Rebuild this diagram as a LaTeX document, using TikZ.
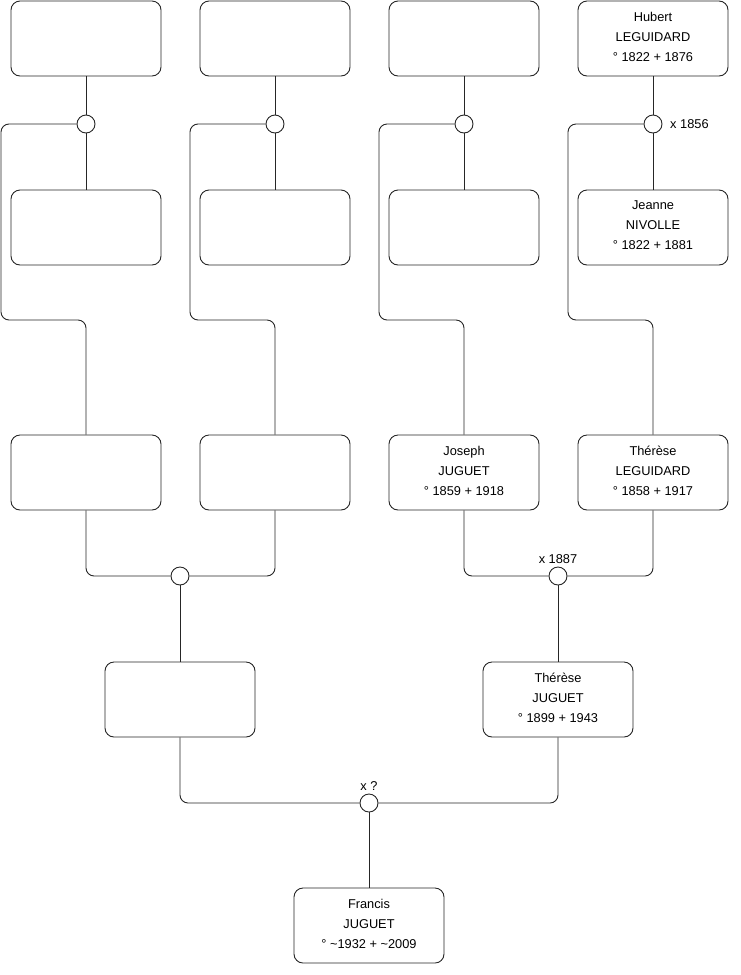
\documentclass[tikz,border=0pt]{standalone}
\usepackage{fontspec}
\setmainfont{Liberation Sans}
\begin{document}
\begin{tikzpicture}[x=1pt,y=-1pt,
  person/.style={draw=black!85,line width=0.9pt,rounded corners=9pt,minimum width=150pt,minimum height=75pt,inner sep=0pt,align=center,font=\fontsize{12.8}{20}\selectfont,execute at end node={\rule[-4pt]{0pt}{4pt}}},
  union/.style={draw=black!85,line width=0.9pt,circle,minimum size=18pt,inner sep=0pt},
  link/.style={draw=black!85,line width=0.9pt,rounded corners=8pt},
  lbl/.style={font=\fontsize{12.8}{14}\selectfont,inner sep=0pt}]
\useasboundingbox (0,0) rectangle (740,975);
% row 1
\node[person] (a1) at (86,38.5) {};
\node[person] (b1) at (275,38.5) {};
\node[person] (c1) at (464,38.5) {};
\node[person] (d1) at (653,38.5) {Hubert\\LEGUIDARD\\° 1822 + 1876};
% unions row 1
\node[union] (ua) at (86,124) {};
\node[union] (ub) at (275,124) {};
\node[union] (uc) at (464,124) {};
\node[union] (ud) at (653,124) {};
% row 2
\node[person] (a2) at (86,227.5) {};
\node[person] (b2) at (275,227.5) {};
\node[person] (c2) at (464,227.5) {};
\node[person] (d2) at (653,227.5) {Jeanne\\NIVOLLE\\° 1822 + 1881};
% row 3
\node[person] (a3) at (86,472.5) {};
\node[person] (b3) at (275,472.5) {};
\node[person] (c3) at (464,472.5) {Joseph\\JUGUET\\° 1859 + 1918};
\node[person] (d3) at (653,472.5) {Thérèse\\LEGUIDARD\\° 1858 + 1917};
% unions row 3
\node[union] (uab) at (180,576) {};
\node[union] (ucd) at (558,576) {};
% row 4
\node[person] (e4) at (180,699.5) {};
\node[person] (f4) at (558,699.5) {Thérèse\\JUGUET\\° 1899 + 1943};
% union row 4
\node[union] (uef) at (369,803) {};
% row 5
\node[person] (g5) at (369,925.5) {Francis\\JUGUET\\° \textasciitilde1932 + \textasciitilde2009};
% labels
\node[lbl,anchor=west] (ld) at (670,124) {x 1856};
\node[lbl,anchor=south] (lcd) at (558,564) {x 1887};
\node[lbl,anchor=south] (lef) at (369,791) {x ?};
% connectors row1-row2
\foreach \u/\t/\m in {ua/a1/a2,ub/b1/b2,uc/c1/c2,ud/d1/d2}{
  \draw[link] (\t.south) -- (\u.north);
  \draw[link] (\u.south) -- (\m.north);
}
\draw[link] (ua.west) -- (1,124) -- (1,320) -- (86,320) -- (a3.north);
\draw[link] (ub.west) -- (190,124) -- (190,320) -- (275,320) -- (b3.north);
\draw[link] (uc.west) -- (379,124) -- (379,320) -- (464,320) -- (c3.north);
\draw[link] (ud.west) -- (568,124) -- (568,320) -- (653,320) -- (d3.north);
% row3 to unions
\draw[link] (a3.south) -- (86,576) -- (uab.west);
\draw[link] (b3.south) -- (275,576) -- (uab.east);
\draw[link] (c3.south) -- (464,576) -- (ucd.west);
\draw[link] (d3.south) -- (653,576) -- (ucd.east);
\draw[link] (uab.south) -- (e4.north);
\draw[link] (ucd.south) -- (f4.north);
% row4 to union
\draw[link] (e4.south) -- (180,803) -- (uef.west);
\draw[link] (f4.south) -- (558,803) -- (uef.east);
\draw[link] (uef.south) -- (g5.north);
\end{tikzpicture}
\end{document}
